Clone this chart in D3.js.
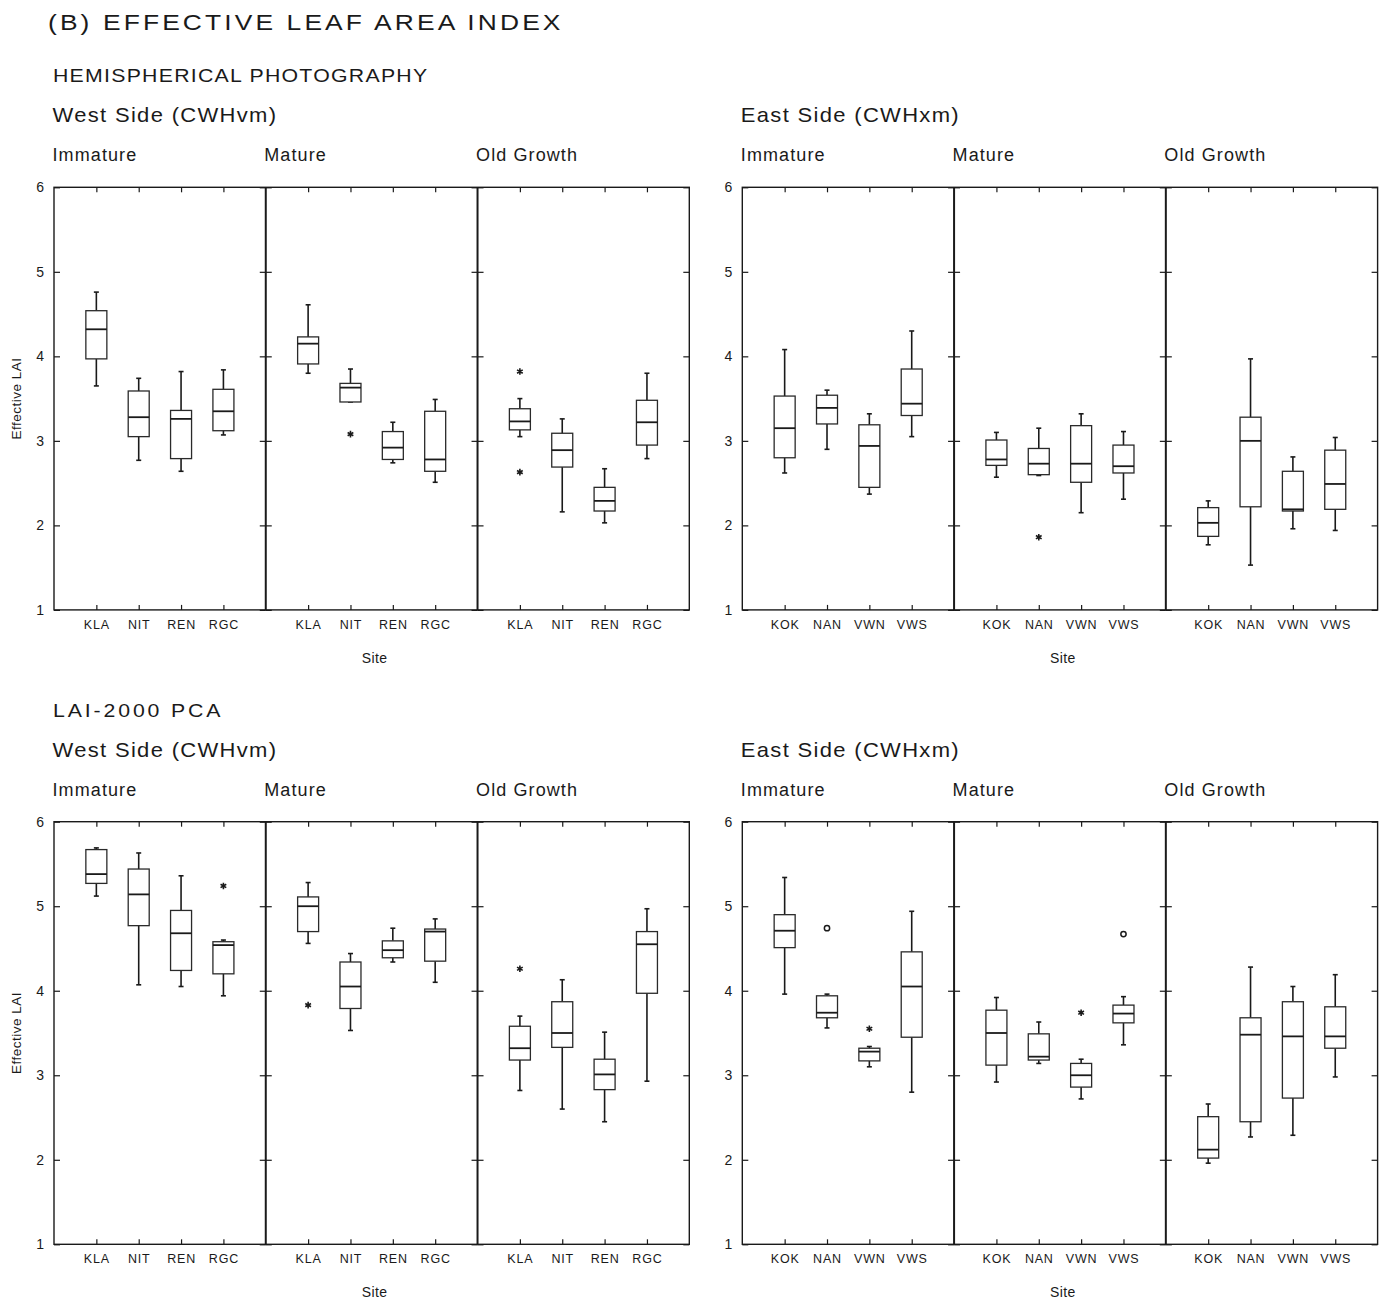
<!DOCTYPE html>
<html>
<head>
<meta charset="utf-8">
<script src="https://cdn.jsdelivr.net/npm/d3@7"></script>
<style>
  html, body { margin: 0; padding: 0; background: #fff; }
  svg { display: block; }
  text { font-family: "Liberation Sans", Arial, sans-serif; fill: #1a1a1a; }
</style>
</head>
<body>
<svg id="chart" width="1385" height="1302"></svg>
<script>
// ---------------- DATA ----------------
const westSites = ["KLA", "NIT", "REN", "RGC"];
const eastSites = ["KOK", "NAN", "VWN", "VWS"];
const ageClasses = ["Immature", "Mature", "Old Growth"];
const yTicks = [1, 2, 3, 4, 5, 6];

// each box: [lower whisker, Q1, median, Q3, upper whisker]
const hemiWest = [
  [[3.65, 3.97, 4.32, 4.54, 4.76], [2.77, 3.05, 3.28, 3.59, 3.74], [2.64, 2.79, 3.26, 3.36, 3.82], [3.07, 3.12, 3.35, 3.61, 3.84]],
  [[3.80, 3.91, 4.15, 4.23, 4.61], [3.46, 3.46, 3.63, 3.68, 3.85], [2.74, 2.78, 2.92, 3.11, 3.22], [2.51, 2.64, 2.78, 3.35, 3.49]],
  [[3.05, 3.13, 3.23, 3.38, 3.50], [2.16, 2.69, 2.89, 3.09, 3.26], [2.03, 2.17, 2.29, 2.45, 2.67], [2.79, 2.95, 3.22, 3.48, 3.80]]
];
const hemiEast = [
  [[2.62, 2.80, 3.15, 3.53, 4.08], [2.90, 3.20, 3.39, 3.54, 3.60], [2.37, 2.45, 2.94, 3.19, 3.32], [3.05, 3.30, 3.44, 3.85, 4.30]],
  [[2.57, 2.71, 2.78, 3.01, 3.10], [2.59, 2.60, 2.73, 2.91, 3.15], [2.15, 2.51, 2.73, 3.18, 3.32], [2.31, 2.62, 2.70, 2.95, 3.11]],
  [[1.77, 1.87, 2.03, 2.21, 2.29], [1.53, 2.22, 3.00, 3.28, 3.97], [1.96, 2.17, 2.19, 2.64, 2.81], [1.94, 2.19, 2.49, 2.89, 3.04]]
];
const laiWest = [
  [[5.12, 5.27, 5.38, 5.67, 5.69], [4.07, 4.77, 5.14, 5.44, 5.63], [4.05, 4.24, 4.68, 4.95, 5.36], [3.94, 4.20, 4.54, 4.58, 4.60]],
  [[4.56, 4.70, 5.00, 5.11, 5.28], [3.53, 3.79, 4.05, 4.34, 4.44], [4.34, 4.39, 4.48, 4.59, 4.74], [4.10, 4.35, 4.70, 4.73, 4.85]],
  [[2.82, 3.18, 3.32, 3.58, 3.70], [2.60, 3.33, 3.50, 3.87, 4.13], [2.45, 2.83, 3.01, 3.19, 3.51], [2.93, 3.97, 4.55, 4.70, 4.97]]
];
const laiEast = [
  [[3.96, 4.51, 4.71, 4.90, 5.34], [3.56, 3.68, 3.74, 3.94, 3.96], [3.10, 3.17, 3.28, 3.32, 3.34], [2.80, 3.45, 4.05, 4.46, 4.94]],
  [[2.92, 3.12, 3.50, 3.77, 3.92], [3.14, 3.18, 3.22, 3.49, 3.63], [2.72, 2.86, 3.00, 3.14, 3.19], [3.36, 3.62, 3.73, 3.83, 3.93]],
  [[1.96, 2.02, 2.12, 2.51, 2.66], [2.27, 2.45, 3.48, 3.68, 4.28], [2.29, 2.73, 3.46, 3.87, 4.05], [2.98, 3.32, 3.46, 3.81, 4.19]]
];
// outliers: [age index, site index, value, kind]
const hemiWestOut = [[1, 1, 3.08, "star"], [2, 0, 3.82, "star"], [2, 0, 2.63, "star"]];
const hemiEastOut = [[1, 1, 1.86, "star"]];
const laiWestOut = [[0, 3, 5.24, "star"], [1, 0, 3.83, "star"], [2, 0, 4.26, "star"]];
const laiEastOut = [[0, 1, 4.74, "circle"], [0, 2, 3.55, "star"], [1, 2, 3.74, "star"], [1, 3, 4.67, "circle"]];

const mainTitle = "(B) EFFECTIVE LEAF AREA INDEX";
const sectionTitles = ["HEMISPHERICAL PHOTOGRAPHY", "LAI-2000 PCA"];
const sideTitles = ["West Side (CWHvm)", "East Side (CWHxm)"];
const yLabel = "Effective LAI";
const xLabel = "Site";

// ---------------- LAYOUT ----------------
const svg = d3.select("#chart");
const panelXs = [54, 742.3];
const panelW = 635.3;
const panelYs = [187.3, 821.7];
const panelH = 422.6;
const ink = "#1a1a1a";
const FONT = '"Liberation Sans", Arial, sans-serif';

function header(x, y, size, sx, ls, txt) {
  svg.append("text")
    .attr("transform", `translate(${x},${y}) scale(${sx},1)`)
    .attr("font-size", size).attr("letter-spacing", ls)
    .attr("fill", "#222").text(txt);
}

header(48, 30, 22, 1.2, 2.6, mainTitle);
header(53, panelYs[0] - 105, 18.5, 1.15, 1.1, sectionTitles[0]);
header(53, panelYs[1] - 105, 18.5, 1.15, 2.5, sectionTitles[1]);

const panels = [
  {row: 0, col: 0, data: hemiWest, out: hemiWestOut, sites: westSites},
  {row: 0, col: 1, data: hemiEast, out: hemiEastOut, sites: eastSites},
  {row: 1, col: 0, data: laiWest, out: laiWestOut, sites: westSites},
  {row: 1, col: 1, data: laiEast, out: laiEastOut, sites: eastSites}
];

panels.forEach(p => {
  const x0 = panelXs[p.col], y0 = panelYs[p.row];
  const g = svg.append("g");
  const y = d3.scaleLinear().domain([1, 6]).range([y0 + panelH, y0]);
  const subW = panelW / 3;

  // side title
  header(x0 - 1.5, y0 - 65, 20, 1.1, 1.2, sideTitles[p.col]);

  ageClasses.forEach((age, ai) => {
    const sx0 = x0 + ai * subW, sx1 = sx0 + subW;
    const x = d3.scalePoint().domain(p.sites).range([sx0, sx1]).padding(1);

    g.append("text").attr("x", sx0 - 1.5).attr("y", y0 - 26)
      .attr("font-size", 18).attr("letter-spacing", 1.1).attr("fill", "#222").text(age);

    // bottom axis with labels, ticks inside
    const bx = g.append("g").attr("transform", `translate(0,${y0 + panelH})`)
      .call(d3.axisBottom(x).tickSizeInner(-5).tickSizeOuter(0).tickPadding(10));
    bx.select(".domain").remove();
    bx.selectAll("text").attr("font-size", 12.5).attr("letter-spacing", 0.8)
      .style("font-family", FONT).attr("fill", ink);
    bx.selectAll("line").attr("stroke", ink).attr("stroke-width", 1.2);

    // top ticks
    const tx = g.append("g").attr("transform", `translate(0,${y0})`)
      .call(d3.axisTop(x).tickSizeInner(-5).tickSizeOuter(0).tickFormat(""));
    tx.select(".domain").remove();
    tx.selectAll("line").attr("stroke", ink).attr("stroke-width", 1.2);

    // left & right y ticks (inside)
    const ly = g.append("g").attr("transform", `translate(${sx0},0)`)
      .call(d3.axisLeft(y).tickValues(yTicks).tickSizeInner(-6).tickSizeOuter(0).tickPadding(10)
        .tickFormat(ai === 0 ? d3.format("d") : ""));
    ly.select(".domain").remove();
    ly.selectAll("line").attr("stroke", ink).attr("stroke-width", 1.2);
    ly.selectAll("text").attr("font-size", 14)
      .style("font-family", FONT).attr("fill", ink);
    const ry = g.append("g").attr("transform", `translate(${sx1},0)`)
      .call(d3.axisRight(y).tickValues(yTicks).tickSizeInner(-6).tickSizeOuter(0).tickFormat(""));
    ry.select(".domain").remove();
    ry.selectAll("line").attr("stroke", ink).attr("stroke-width", 1.2);

    // boxes
    const bw = 21, cap = 2.5;
    p.data[ai].forEach((d, si) => {
      const cx = x(p.sites[si]);
      const [lo, q1, md, q3, hi] = d;
      const bg = g.append("g");
      bg.append("line").attr("x1", cx).attr("x2", cx).attr("y1", y(hi)).attr("y2", y(q3))
        .attr("stroke", ink).attr("stroke-width", 1.6);
      bg.append("line").attr("x1", cx).attr("x2", cx).attr("y1", y(q1)).attr("y2", y(lo))
        .attr("stroke", ink).attr("stroke-width", 1.6);
      bg.append("line").attr("x1", cx - cap).attr("x2", cx + cap).attr("y1", y(hi)).attr("y2", y(hi))
        .attr("stroke", ink).attr("stroke-width", 1.6);
      bg.append("line").attr("x1", cx - cap).attr("x2", cx + cap).attr("y1", y(lo)).attr("y2", y(lo))
        .attr("stroke", ink).attr("stroke-width", 1.6);
      bg.append("rect").attr("x", cx - bw / 2).attr("width", bw)
        .attr("y", y(q3)).attr("height", Math.max(0.5, y(q1) - y(q3)))
        .attr("fill", "#fff").attr("stroke", "#2a2a2a").attr("stroke-width", 1.3);
      bg.append("line").attr("x1", cx - bw / 2).attr("x2", cx + bw / 2).attr("y1", y(md)).attr("y2", y(md))
        .attr("stroke", ink).attr("stroke-width", 1.8);
    });

    // outliers
    p.out.filter(o => o[0] === ai).forEach(o => {
      const cx = x(p.sites[o[1]]), cy = y(o[2]);
      if (o[3] === "star") {
        g.append("path").attr("d", d3.symbol(d3.symbolAsterisk, 30)())
          .attr("transform", `translate(${cx},${cy})`)
          .attr("fill", "none").attr("stroke", ink).attr("stroke-width", 1.6);
      } else {
        g.append("path").attr("d", d3.symbol(d3.symbolCircle, 22)())
          .attr("transform", `translate(${cx},${cy})`)
          .attr("fill", "none").attr("stroke", ink).attr("stroke-width", 1.5);
      }
    });

    // divider
    if (ai > 0) {
      g.append("line").attr("x1", sx0).attr("x2", sx0).attr("y1", y0).attr("y2", y0 + panelH)
        .attr("stroke", ink).attr("stroke-width", 2);
    }
  });

  // frame
  g.append("rect").attr("x", x0).attr("y", y0).attr("width", panelW).attr("height", panelH)
    .attr("fill", "none").attr("stroke", ink).attr("stroke-width", 1.4);

  // x label
  g.append("text").attr("x", x0 + panelW / 2 + 3).attr("y", y0 + panelH + 53)
    .attr("text-anchor", "middle").attr("font-size", 14).attr("letter-spacing", 0.4).text(xLabel);

  // y label (left panels only)
  if (p.col === 0) {
    g.append("text").attr("transform", `translate(21,${y0 + panelH / 2}) rotate(-90)`)
      .attr("text-anchor", "middle").attr("font-size", 13.5).attr("letter-spacing", 0.5).text(yLabel);
  }
});
</script>
</body>
</html>
